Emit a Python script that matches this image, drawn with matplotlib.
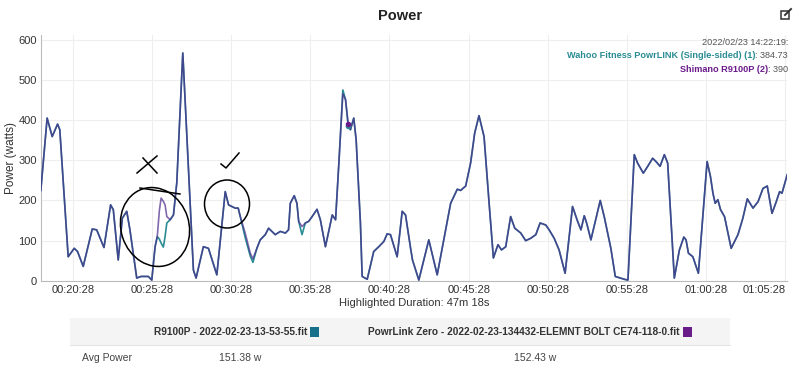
import numpy as np
import matplotlib
matplotlib.use("Agg")
import matplotlib.pyplot as plt
from matplotlib.lines import Line2D
from matplotlib.patches import Ellipse, Rectangle
from matplotlib.transforms import IdentityTransform
from matplotlib.offsetbox import TextArea, HPacker, VPacker, AnchoredOffsetbox

plt.rcParams['font.family'] = ['Liberation Sans', 'DejaVu Sans']

# elapsed time in minutes
time_min = [18.44, 18.84, 19.16, 19.50, 19.64, 20.17, 20.55, 20.76, 21.12, 21.69,
            21.97, 22.43, 22.85, 23.02, 23.33, 23.59, 23.87, 24.07, 24.50, 24.77,
            25.23, 25.45, 25.66, 25.80, 25.93, 26.04, 26.18, 26.29, 26.40, 26.61,
            26.82, 27.03, 27.41, 28.08, 28.25, 28.71, 29.03, 29.56, 30.09, 30.30,
            30.51, 30.72, 30.91, 31.04, 31.35, 31.67, 31.84, 32.09, 32.30, 32.62,
            32.83, 33.04, 33.25, 33.57, 33.89, 34.09, 34.20, 34.45, 34.62, 34.73,
            34.94, 35.15, 35.36, 35.58, 35.89, 36.10, 36.42, 36.85, 37.06, 37.27,
            37.52, 37.69, 37.86, 38.00, 38.21, 38.36, 38.63, 38.74, 39.06, 39.47,
            39.79, 40.11, 40.32, 40.53, 40.95, 41.27, 41.48, 41.80, 41.92, 42.32,
            42.95, 43.48, 44.33, 44.75, 44.96, 45.28, 45.59, 45.85, 46.12, 46.44,
            46.76, 47.03, 47.32, 47.54, 47.81, 48.12, 48.38, 48.76, 49.07, 49.39,
            49.71, 49.98, 50.34, 50.55, 50.87, 51.18, 51.56, 52.03, 52.35, 52.56,
            52.77, 52.92, 53.19, 53.78, 54.03, 54.25, 54.45, 54.73, 55.30, 55.53,
            55.93, 56.14, 56.50, 56.78, 57.09, 57.30, 57.56, 57.83, 58.04, 58.46,
            58.78, 59.06, 59.20, 59.35, 59.63, 59.98, 60.53, 60.74, 60.90, 61.04,
            61.21, 61.38, 61.63, 62.05, 62.48, 62.79, 63.07, 63.43, 63.75, 64.06,
            64.33, 64.63, 64.90, 65.11, 65.26, 65.59]

shimano_w = [225, 405, 359, 390, 376, 60, 81, 73, 36, 129,
             127, 83, 189, 177, 52, 156, 173, 127, 7, 11,
             11, 2, 85, 112, 175, 206, 198, 189, 160, 152,
             164, 244, 567, 27, 7, 85, 81, 15, 222, 189,
             185, 181, 181, 160, 119, 69, 55, 81, 102, 115,
             131, 123, 115, 123, 119, 127, 193, 212, 193, 148,
             135, 144, 148, 160, 178, 152, 85, 164, 152, 293,
             465, 451, 390, 376, 405, 351, 144, 11, 4, 73,
             85, 98, 117, 115, 60, 173, 164, 81, 52, 2,
             102, 15, 193, 228, 225, 236, 293, 368, 411, 359,
             193, 57, 90, 77, 85, 160, 131, 119, 100, 106,
             115, 144, 139, 127, 106, 77, 19, 185, 148, 127,
             162, 144, 102, 200, 160, 119, 81, 11, 4, 2,
             314, 293, 268, 285, 305, 297, 285, 314, 293, 7,
             77, 109, 102, 69, 60, 19, 297, 260, 218, 193,
             202, 177, 160, 81, 115, 156, 204, 181, 197, 230,
             236, 168, 197, 222, 218, 264]

wahoo_w = [225, 405, 359, 390, 376, 60, 81, 73, 36, 129,
           127, 83, 189, 177, 52, 156, 173, 127, 7, 11,
           11, 2, 85, 110, 104, 94, 84, 110, 144, 152,
           164, 244, 567, 27, 7, 85, 81, 15, 222, 189,
           185, 181, 181, 160, 108, 62, 46, 81, 102, 115,
           131, 123, 115, 123, 119, 127, 193, 212, 193, 148,
           115, 144, 148, 160, 178, 152, 85, 164, 152, 293,
           475, 451, 385, 376, 405, 351, 144, 11, 4, 73,
           85, 98, 117, 115, 60, 173, 164, 81, 52, 2,
           102, 15, 193, 228, 225, 236, 293, 368, 411, 359,
           193, 57, 90, 77, 85, 160, 131, 119, 100, 106,
           115, 144, 139, 127, 106, 77, 19, 185, 148, 127,
           162, 144, 102, 200, 160, 119, 81, 11, 4, 2,
           314, 293, 268, 285, 305, 297, 285, 314, 293, 7,
           77, 109, 102, 69, 60, 19, 297, 260, 218, 193,
           202, 177, 160, 81, 115, 156, 204, 181, 197, 230,
           236, 168, 197, 222, 218, 264]

assert len(time_min) == len(shimano_w) == len(wahoo_w)

tick_min = [20.467 + 5 * k for k in range(10)]
tick_labels = ["00:20:28", "00:25:28", "00:30:28", "00:35:28", "00:40:28",
               "00:45:28", "00:50:28", "00:55:28", "01:00:28", "01:05:28"]
hover_min = 37.86
hover_wahoo = 384.73
hover_shimano = 390

teal = '#2a8c94'
purple = '#6a1b8a'

fig = plt.figure(figsize=(8, 3.75), dpi=100)
ax = fig.add_axes([0.051, 0.251, 0.933, 0.656])

ax.plot(time_min, wahoo_w, color=teal, lw=1.2, zorder=3)
ax.plot(time_min, shimano_w, color='#4a2a8a', lw=1.2, alpha=0.7, zorder=4)
ax.plot([hover_min], [hover_wahoo], 'o', color=teal, ms=3, zorder=5)
ax.plot([hover_min], [hover_shimano], 'o', color=purple, ms=3, zorder=6)

ax.set_xlim(time_min[0], time_min[-1])
ax.set_ylim(0, 612)
ax.set_yticks(range(0, 601, 100))
ax.set_xticks(tick_min)
ax.set_xticklabels(tick_labels)
ax.get_xticklabels()[-1].set_ha('right')
ax.tick_params(labelsize=8, length=0, colors='#333333', pad=3)
ax.grid(True, color='#eeeeee', lw=0.8)
for s in ['top', 'right']:
    ax.spines[s].set_visible(False)
ax.spines['left'].set_color('#bbbbbb')
ax.spines['bottom'].set_color('#bbbbbb')
ax.set_ylabel('Power (watts)', fontsize=8.5, color='#333333', labelpad=1)
ax.set_xlabel('Highlighted Duration: 47m 18s', fontsize=8, color='#333333', labelpad=2)

fig.text(0.5, 0.957, 'Power', ha='center', va='center', fontsize=10.5,
         fontweight='bold', color='#222222')

# hover readout, top right
def row(parts):
    return HPacker(children=[TextArea(t, textprops=p) for t, p in parts],
                   align='baseline', pad=0, sep=0)

fs = 6.6
gray = dict(fontsize=fs, color='#555555')
box = VPacker(children=[
    row([('2022/02/23 14:22:19:', gray)]),
    row([('Wahoo Fitness PowrLINK (Single-sided) (1)', dict(fontsize=fs, color=teal, fontweight='bold')),
         (': 384.73', gray)]),
    row([('Shimano R9100P (2)', dict(fontsize=fs, color=purple, fontweight='bold')),
         (': 390', gray)]),
], align='right', pad=0, sep=3)
anch = AnchoredOffsetbox(loc='upper right', child=box, frameon=False,
                         bbox_to_anchor=(0.985, 0.898), bbox_transform=fig.transFigure,
                         borderpad=0, pad=0)
fig.add_artist(anch)


def px(x, y):
    return x / 800, 1 - y / 375


# edit icon next to the title
fig.add_artist(Rectangle((781, 375 - 19), 8, 8, fill=False, ec='#333333', lw=1.1,
                         transform=IdentityTransform()))
fig.add_artist(Line2D([785, 791], [375 - 15, 375 - 9], color='#333333', lw=1.4,
                      transform=IdentityTransform()))

# hand-drawn marks (pixel space)
ink = dict(color='black', lw=1.1, transform=fig.transFigure)
for seg in [[(137, 173), (157, 156)], [(143, 158), (157, 173)],
            [(221, 164), (226, 168), (239, 153)], [(140, 188), (180, 194)]]:
    xs, ys = zip(*[px(*p) for p in seg])
    fig.add_artist(Line2D(xs, ys, **ink))
for cx, cy, w, h, ang in [(155, 227, 68, 80, 18), (227, 204, 45, 48, 0)]:
    fig.add_artist(Ellipse((cx, 375 - cy), w, h, angle=ang, fill=False,
                           ec='black', lw=1.1, transform=IdentityTransform()))

# summary table
fig.add_artist(Rectangle(px(70, 345), 660 / 800, 27 / 375, transform=fig.transFigure,
                         fc='#f4f4f4', ec='none'))
fig.add_artist(Line2D([70 / 800, 730 / 800], [1 - 345 / 375] * 2, color='#e4e4e4',
                      lw=0.8, transform=fig.transFigure))
hx, hy = px(307, 332)
fig.text(hx, hy, 'R9100P - 2022-02-23-13-53-55.fit', ha='right', va='center',
         fontsize=7.3, fontweight='bold', color='#333333')
fig.add_artist(Rectangle(px(310, 337), 9 / 800, 10 / 375, transform=fig.transFigure,
                         fc='#16708a', ec='none'))
hx, hy = px(680, 332)
fig.text(hx, hy, 'PowrLink Zero - 2022-02-23-134432-ELEMNT BOLT CE74-118-0.fit',
         ha='right', va='center', fontsize=7.3, fontweight='bold', color='#333333')
fig.add_artist(Rectangle(px(683, 337), 9 / 800, 10 / 375, transform=fig.transFigure,
                         fc='#6a1b8a', ec='none'))
for x, txt, ha in [(82, 'Avg Power', 'left'), (240, '151.38 w', 'center'),
                   (535, '152.43 w', 'center')]:
    fx, fy = px(x, 358)
    fig.text(fx, fy, txt, ha=ha, va='center', fontsize=7.5, color='#444444')

fig.savefig('out.png', dpi=100)
